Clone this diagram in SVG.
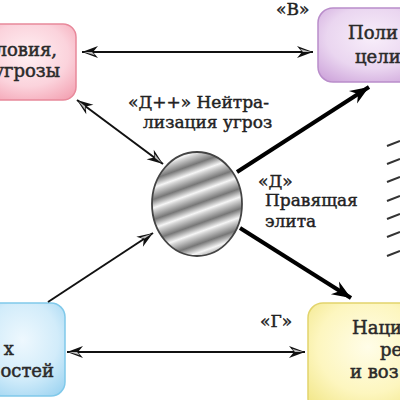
<svg xmlns="http://www.w3.org/2000/svg" width="400" height="400" viewBox="0 0 400 400">
<style>
.t{font-family:"DejaVu Serif","Liberation Serif",serif;font-size:17px;fill:#222;stroke:#222;stroke-width:0.45}
.tb{font-family:"DejaVu Serif","Liberation Serif",serif;font-size:18px;fill:#2a2a2a;stroke:#2a2a2a;stroke-width:0.5}
.thin{stroke:#111;stroke-width:2;fill:none}
.thick{stroke:#000;stroke-width:4;fill:none}
.hatch{stroke:#333;stroke-width:2}
</style>
<defs>
<radialGradient id="gPink" cx="50%" cy="40%" r="70%"><stop offset="0" stop-color="#fff0f3"/><stop offset="0.6" stop-color="#fbd3dc"/><stop offset="1" stop-color="#f4a6b6"/></radialGradient>
<radialGradient id="gPurple" cx="50%" cy="40%" r="70%"><stop offset="0" stop-color="#f8eefa"/><stop offset="0.6" stop-color="#ead6f0"/><stop offset="1" stop-color="#d0a8dc"/></radialGradient>
<radialGradient id="gBlue" cx="50%" cy="40%" r="70%"><stop offset="0" stop-color="#eef8fe"/><stop offset="0.6" stop-color="#d2ecfa"/><stop offset="1" stop-color="#a2d6f2"/></radialGradient>
<radialGradient id="gYellow" cx="50%" cy="40%" r="70%"><stop offset="0" stop-color="#fffde8"/><stop offset="0.6" stop-color="#fdf6bf"/><stop offset="1" stop-color="#f2e78a"/></radialGradient>
<linearGradient id="stripes" gradientUnits="userSpaceOnUse" x1="197" y1="204" x2="203.5" y2="222" spreadMethod="repeat">
<stop offset="0" stop-color="#777"/><stop offset="0.42" stop-color="#f6f6f6"/><stop offset="0.55" stop-color="#d4d4d4"/><stop offset="1" stop-color="#777"/>
</linearGradient>
<marker id="ah" viewBox="-17 -7 18 14" refX="0" refY="0" markerWidth="18" markerHeight="14" markerUnits="userSpaceOnUse" orient="auto-start-reverse">
<path d="M0,0 L-16,-6 L-11,0 L-16,6 Z" fill="#111"/>
<path d="M-2,0 L-13,-3.2 L-10,0 Z" fill="#bbb"/>
</marker>
<marker id="ahb" viewBox="-20 -9 21 18" refX="0" refY="0" markerWidth="21" markerHeight="18" markerUnits="userSpaceOnUse" orient="auto">
<path d="M0,0 L-19,-7.5 L-13,0 L-19,7.5 Z" fill="#000"/>
</marker>
</defs>

<g id="node-conditions">
<rect x="-20" y="24" width="96" height="76" rx="13" fill="url(#gPink)" stroke="#e8899b" stroke-width="1.5"/>
<text class="tb" x="57" y="56" text-anchor="end">ловия,</text>
<text class="tb" x="60" y="77" text-anchor="end">угрозы</text>
</g>
<g id="node-goals">
<rect x="318" y="8" width="110" height="74" rx="15" fill="url(#gPurple)" stroke="#b98dca" stroke-width="1.5"/>
<text class="tb" x="348" y="39">Поли</text>
<text class="tb" x="355" y="63">цели</text>
</g>
<g id="node-possibilities">
<rect x="-20" y="303" width="85" height="93" rx="14" fill="url(#gBlue)" stroke="#80c9ea" stroke-width="1.5"/>
<text class="tb" x="14" y="355" text-anchor="end">х</text>
<text class="tb" x="54" y="377" text-anchor="end">остей</text>
</g>
<g id="node-resources">
<rect x="308" y="303" width="120" height="110" rx="15" fill="url(#gYellow)" stroke="#e2d46c" stroke-width="1.5"/>
<text class="tb" x="352" y="334">Наци</text>
<text class="tb" x="380" y="356">ре</text>
<text class="tb" x="350" y="378">и воз</text>
</g>
<g id="node-elite">
<ellipse cx="197" cy="204" rx="45" ry="52" fill="url(#stripes)" stroke="#444" stroke-width="1.8"/>
</g>

<g id="connectors">
<line class="thin" x1="82" y1="52" x2="313" y2="52" marker-start="url(#ah)" marker-end="url(#ah)"/>
<line class="thin" x1="67" y1="352" x2="305" y2="352" marker-start="url(#ah)" marker-end="url(#ah)"/>
<line class="thin" x1="77" y1="100" x2="163" y2="164" marker-start="url(#ah)" marker-end="url(#ah)"/>
<line class="thin" x1="48" y1="302" x2="153" y2="233" marker-end="url(#ah)"/>
<line class="thick" x1="237" y1="172" x2="369" y2="87" marker-end="url(#ahb)"/>
<line class="thick" x1="240" y1="228" x2="351" y2="298" marker-end="url(#ahb)"/>
</g>

<g id="labels">
<text class="t" x="276" y="15">«В»</text>
<text class="t" x="128" y="108">«Д++» Нейтра-</text>
<text class="t" x="143" y="128">лизация угроз</text>
<text class="t" x="258" y="187">«Д»</text>
<text class="t" x="265" y="206">Правящая</text>
<text class="t" x="265" y="227">элита</text>
<text class="t" x="260" y="327">«Г»</text>
</g>

<g id="hatching">
<line class="hatch" x1="387" y1="146" x2="400" y2="141"/>
<line class="hatch" x1="387" y1="164" x2="400" y2="159"/>
<line class="hatch" x1="387" y1="182" x2="400" y2="177"/>
<line class="hatch" x1="387" y1="201" x2="400" y2="196"/>
<line class="hatch" x1="387" y1="219" x2="400" y2="214"/>
<line class="hatch" x1="387" y1="237" x2="400" y2="232"/>
<line class="hatch" x1="387" y1="256" x2="400" y2="251"/>
</g>
</svg>
